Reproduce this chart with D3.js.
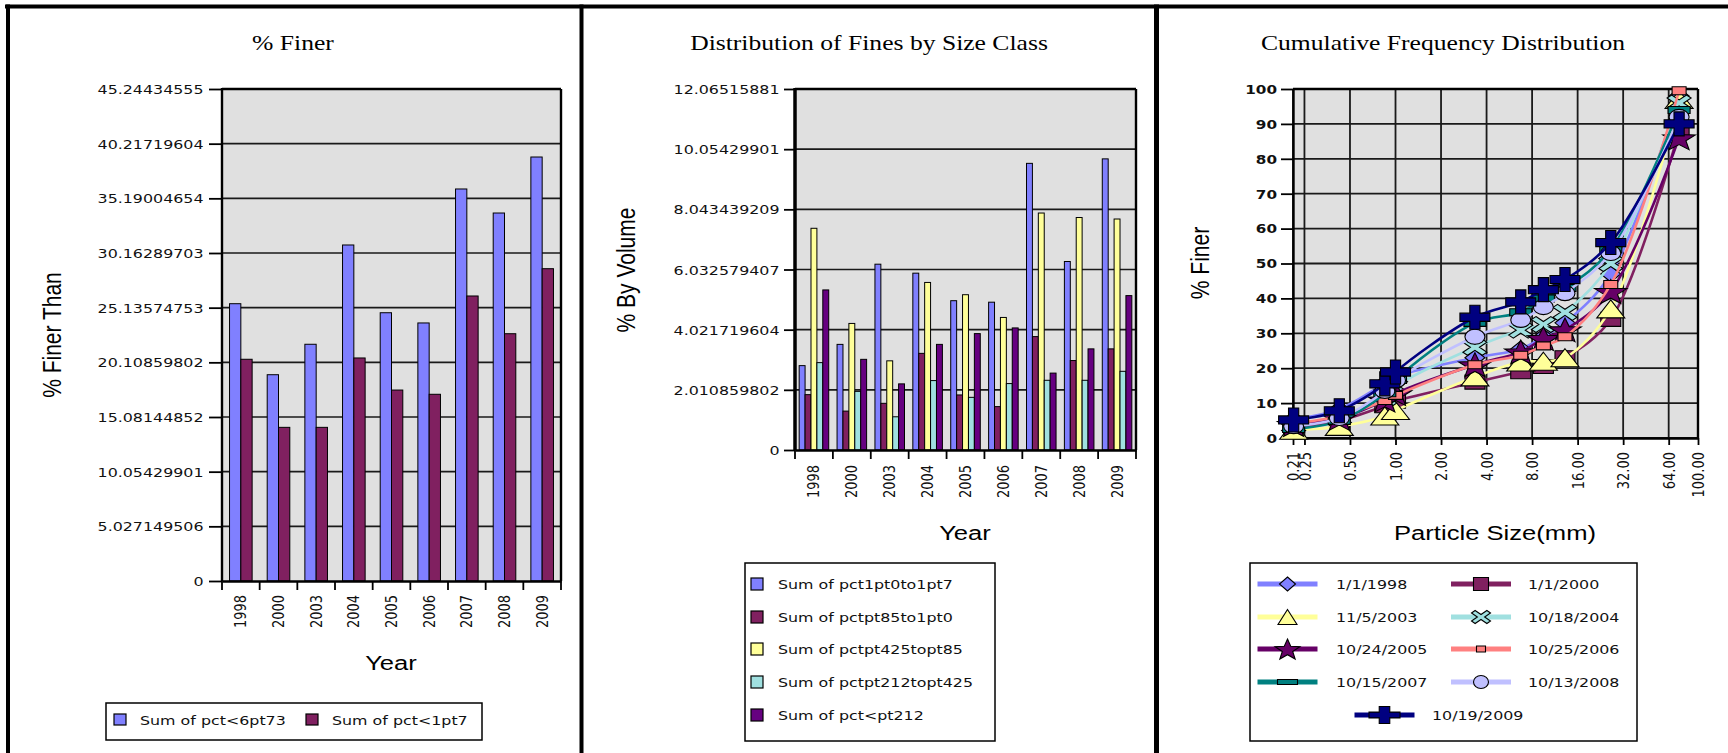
<!DOCTYPE html>
<html><head><meta charset="utf-8">
<script src="https://cdn.jsdelivr.net/npm/d3@7"></script>
<style>
html,body{margin:0;padding:0;background:#fff;}
svg{display:block;}
</style></head>
<body><svg id="c" width="1728" height="753"></svg>
<script>
// ---------------- DATA ----------------
const years = ["1998","2000","2003","2004","2005","2006","2007","2008","2009"];

// Panel 1: % Finer
const finerSeries = ["Sum of pct<6pt73","Sum of pct<1pt7"];
const pctLt6pt73 = [25.5,18.97,21.77,30.9,24.67,23.73,36.05,33.84,38.99];
const pctLt1pt7  = [20.39,14.13,14.13,20.51,17.56,17.17,26.21,22.74,28.72];
const finerTicks = ["0","5.027149506","10.05429901","15.08144852","20.10859802","25.13574753","30.16289703","35.19004654","40.21719604","45.24434555"];

// Panel 2: Distribution of fines by size class
const classSeries = ["Sum of pct1pt0to1pt7","Sum of pctpt85to1pt0","Sum of pctpt425topt85","Sum of pctpt212topt425","Sum of pct<pt212"];
const pct1pt0to1pt7   = [2.82,3.53,6.21,5.91,4.99,4.94,9.58,6.30,9.73];
const pctpt85to1pt0   = [1.85,1.30,1.56,3.23,1.84,1.45,3.79,2.99,3.38];
const pctpt425topt85  = [7.41,4.23,2.98,5.60,5.19,4.43,7.92,7.77,7.72];
const pctpt212topt425 = [2.92,1.96,1.11,2.32,1.76,2.22,2.33,2.33,2.63];
const pctLtpt212      = [5.35,3.03,2.21,3.53,3.89,4.08,2.57,3.38,5.16];
const classTicks = ["0","2.010859802","4.021719604","6.032579407","8.043439209","10.05429901","12.06515881"];

// Panel 3: Cumulative frequency distribution
const sizeTicks = ["0.21","0.25","0.50","1.00","2.00","4.00","8.00","16.00","32.00","64.00","100.00"];
const percentTicks = ["0","10","20","30","40","50","60","70","80","90","100"];
const sieveSizes = [0.212,0.425,0.85,1.0,3.35,6.73,9.5,13.2,26.5,75];
const sampleDates = ["1/1/1998","1/1/2000","11/5/2003","10/18/2004","10/24/2005","10/25/2006","10/15/2007","10/13/2008","10/19/2009"];
const cf1998 = [5.35,8.28,15.69,17.56,23.0,25.5,29.0,33.0,47.0,98.0];
const cf2000 = [3.03,5.01,9.25,10.56,16.0,18.97,20.5,23.0,34.0,88.0];
const cf2003 = [2.23,3.33,6.31,7.88,17.5,21.77,22.0,23.0,37.0,97.0];
const cf2004 = [3.54,5.86,11.46,14.69,26.0,30.9,32.5,36.0,50.0,96.0];
const cf2005 = [3.90,5.66,10.86,12.73,21.0,24.67,28.5,31.0,42.0,86.0];
const cf2006 = [4.09,6.31,10.76,12.21,21.0,23.73,26.4,29.0,44.0,99.5];
const cf2007 = [2.58,4.90,12.83,16.62,33.0,36.05,40.0,43.0,54.0,94.0];
const cf2008 = [3.39,5.71,13.49,16.49,29.0,33.84,37.5,41.5,53.0,92.0];
const cf2009 = [5.16,7.80,15.52,18.91,34.6,38.99,42.5,45.4,56.0,90.0];

// ---------------- STYLE ----------------
const K = 1.22; // horizontal stretch of the original screenshot
const SERIF = "'Liberation Serif','Times New Roman',serif";
const SANS = "'Liberation Sans',Arial,sans-serif";
const TICKF = "'DejaVu Sans',Verdana,sans-serif";
const PLOTBG = "#E0E0E0";
const GRID = "#1a1a1a";

const svg = d3.select("#c");

function txt(g, x, y, str, o) {
  return g.append("text")
    .attr("transform", `translate(${x},${y}) scale(${K},1)` + (o.rot ? " rotate(-90)" : ""))
    .attr("text-anchor", o.anchor || "start")
    .attr("dy", o.dy == null ? "0.35em" : o.dy)
    .style("font-family", o.font || TICKF)
    .style("font-size", (o.size || 13) + "px")
    .style("font-weight", o.weight || "normal")
    .attr("fill", o.fill || "#111")
    .text(str);
}

// ---------- frame ----------
const frame = svg.append("g");
frame.append("line").attr("x1",5).attr("x2",1728).attr("y1",6.5).attr("y2",6.5).attr("stroke","#000").attr("stroke-width",4);
[8, 581.5, 1156.5].forEach((x,i)=>{
  frame.append("line").attr("x1",x).attr("x2",x).attr("y1",4.5).attr("y2",753).attr("stroke","#000").attr("stroke-width", i===2?5:4);
});

// ---------- generic bar panel ----------
function barPanel(cfg) {
  const g = svg.append("g");
  const x = d3.scaleBand().domain(years).range([cfg.x0, cfg.x1]);
  const maxV = +cfg.ticks[cfg.ticks.length-1];
  const y = d3.scaleLinear().domain([0, maxV]).range([cfg.y1, cfg.y0]);
  const gw = x.bandwidth() * cfg.groupFrac;
  const inner = d3.scaleBand().domain(cfg.series).range([0, gw]);
  const off = (x.bandwidth() - gw) / 2;

  g.append("rect").attr("x",cfg.x0).attr("y",cfg.y0).attr("width",cfg.x1-cfg.x0).attr("height",cfg.y1-cfg.y0).attr("fill",PLOTBG);
  const tv = cfg.ticks.map(Number);
  g.append("g").selectAll("line").data(tv.slice(1)).join("line")
    .attr("x1",cfg.x0).attr("x2",cfg.x1).attr("y1",d=>y(d)).attr("y2",d=>y(d))
    .attr("stroke",GRID).attr("stroke-width",1.6);
  const ya = g.append("g").attr("transform",`translate(${cfg.x0},0)`)
    .call(d3.axisLeft(y).tickValues(tv).tickFormat((d,i)=>cfg.ticks[i]).tickSize(cfg.tickLen).tickSizeOuter(0));
  ya.select(".domain").remove();
  ya.selectAll(".tick line").attr("stroke","#000").attr("stroke-width",1.8);
  ya.selectAll(".tick text").attr("x",null).attr("dy","0.35em")
    .attr("transform",`translate(${-cfg.labelGap},0) scale(${K},1)`)
    .style("font-family",TICKF).style("font-size","13px").attr("fill","#111");

  cfg.series.forEach((s,si)=>{
    g.append("g").selectAll("rect").data(cfg.values[si]).join("rect")
      .attr("x",(d,i)=>x(years[i]) + off + inner(s))
      .attr("width",inner.bandwidth())
      .attr("y",d=>y(d)).attr("height",d=>y(0)-y(d))
      .attr("fill",cfg.colors[si]).attr("stroke","#000").attr("stroke-width",1);
  });

  g.append("line").attr("x1",cfg.x0).attr("x2",cfg.x1).attr("y1",cfg.y0).attr("y2",cfg.y0).attr("stroke","#000").attr("stroke-width",2.4);
  g.append("line").attr("x1",cfg.x1).attr("x2",cfg.x1).attr("y1",cfg.y0).attr("y2",cfg.y1).attr("stroke","#000").attr("stroke-width",2.4);
  g.append("line").attr("x1",cfg.x0).attr("x2",cfg.x0).attr("y1",cfg.y0-1).attr("y2",cfg.y1).attr("stroke","#000").attr("stroke-width",cfg.leftW);

  const xa = g.append("g").attr("transform",`translate(0,${cfg.y1})`)
    .call(d3.axisBottom(x).tickSize(0).tickSizeOuter(0));
  xa.select(".domain").attr("stroke","#000").attr("stroke-width",2.4);
  xa.selectAll(".tick text").attr("y",null).attr("dy","0.35em").attr("text-anchor","end")
    .attr("transform",`translate(0,${cfg.labTop-cfg.y1}) scale(${K},1) rotate(-90)`)
    .style("font-family",TICKF).style("font-size","13px").attr("fill","#111");
  const bounds = years.map(d=>x(d)).concat([cfg.x1]);
  g.append("g").selectAll("line").data(bounds).join("line")
    .attr("x1",d=>d).attr("x2",d=>d).attr("y1",cfg.y1).attr("y2",cfg.y1+9)
    .attr("stroke","#000").attr("stroke-width",1.8);
  return g;
}

// ---------- Panel 1 ----------
const p1 = barPanel({x0:222,x1:561,y0:89,y1:581,ticks:finerTicks,series:finerSeries,
  values:[pctLt6pt73,pctLt1pt7],colors:["#8080FF","#802060"],groupFrac:0.6,
  tickLen:13,labelGap:18.5,labTop:595,leftW:2.4});
txt(p1, 293, 43, "% Finer", {anchor:"middle",font:SERIF,size:21,fill:"#000"});
txt(p1, 52, 335, "% Finer Than", {anchor:"middle",font:SANS,size:21,rot:true,fill:"#000"});
txt(p1, 391, 663, "Year", {anchor:"middle",font:SANS,size:21,fill:"#000"});
{
  const lg = p1.append("g");
  lg.append("rect").attr("x",106).attr("y",703).attr("width",376).attr("height",37).attr("fill","#fff").attr("stroke","#000").attr("stroke-width",1.5);
  const sx = [114,306], tx=[140,332], cols=["#8080FF","#802060"];
  finerSeries.forEach((s,i)=>{
    lg.append("rect").attr("x",sx[i]).attr("y",714).attr("width",12).attr("height",11).attr("fill",cols[i]).attr("stroke","#000").attr("stroke-width",1.2);
    txt(lg, tx[i], 720, s, {size:13});
  });
}

// ---------- Panel 2 ----------
const classColors = ["#8080FF","#802060","#FFFF99","#A0E0E0","#660080"];
const p2 = barPanel({x0:795,x1:1136,y0:89,y1:450,ticks:classTicks,series:classSeries,
  values:[pct1pt0to1pt7,pctpt85to1pt0,pctpt425topt85,pctpt212topt425,pctLtpt212],colors:classColors,groupFrac:0.78,
  tickLen:11,labelGap:15.5,labTop:465,leftW:3.5});
txt(p2, 869, 43, "Distribution of Fines by Size Class", {anchor:"middle",font:SERIF,size:21,fill:"#000"});
txt(p2, 626, 270, "% By Volume", {anchor:"middle",font:SANS,size:21,rot:true,fill:"#000"});
txt(p2, 965, 533, "Year", {anchor:"middle",font:SANS,size:21,fill:"#000"});
const legRows = [584,617,649,682,715];
{
  const lg = p2.append("g");
  lg.append("rect").attr("x",745).attr("y",563).attr("width",250).attr("height",178).attr("fill","#fff").attr("stroke","#000").attr("stroke-width",1.5);
  classSeries.forEach((s,i)=>{
    lg.append("rect").attr("x",751).attr("y",legRows[i]-6).attr("width",12).attr("height",12).attr("fill",classColors[i]).attr("stroke","#000").attr("stroke-width",1.2);
    txt(lg, 778, legRows[i], s, {size:13});
  });
}

// ---------- Panel 3 ----------
const p3 = svg.append("g");
const P3 = {x0:1293,x1:1698,y0:89,y1:438};
const x3 = d3.scaleLog().domain([+sizeTicks[0], +sizeTicks[sizeTicks.length-1]]).range([P3.x0,P3.x1]);
const y3 = d3.scaleLinear().domain([0,100]).range([P3.y1,P3.y0]);
p3.append("rect").attr("x",P3.x0).attr("y",P3.y0).attr("width",P3.x1-P3.x0).attr("height",P3.y1-P3.y0).attr("fill",PLOTBG);
const sizeVals = sizeTicks.map(Number), pctVals = percentTicks.map(Number);
p3.append("g").selectAll("line").data(pctVals).join("line")
  .attr("x1",P3.x0).attr("x2",P3.x1).attr("y1",d=>y3(d)).attr("y2",d=>y3(d)).attr("stroke",GRID).attr("stroke-width",1.8);
p3.append("g").selectAll("line").data(sizeVals).join("line")
  .attr("y1",P3.y0).attr("y2",P3.y1).attr("x1",d=>x3(d)).attr("x2",d=>x3(d)).attr("stroke",GRID).attr("stroke-width",1.8);
{
  const ya = p3.append("g").attr("transform",`translate(${P3.x0},0)`)
    .call(d3.axisLeft(y3).tickValues(pctVals).tickFormat((d,i)=>percentTicks[i]).tickSize(12).tickSizeOuter(0));
  ya.select(".domain").attr("stroke","#000").attr("stroke-width",2.4);
  ya.selectAll(".tick line").attr("stroke","#000").attr("stroke-width",1.8);
  ya.selectAll(".tick text").attr("x",null).attr("dy","0.35em")
    .attr("transform",`translate(-16,0) scale(${K},1)`)
    .style("font-family",TICKF).style("font-size","12.5px").style("font-weight","bold").attr("fill","#111");
  const xa = p3.append("g").attr("transform",`translate(0,${P3.y1})`)
    .call(d3.axisBottom(x3).tickValues(sizeVals).tickFormat((d,i)=>sizeTicks[i]).tickSize(7).tickSizeOuter(0));
  xa.select(".domain").attr("stroke","#000").attr("stroke-width",2.4);
  xa.selectAll(".tick line").attr("stroke","#000").attr("stroke-width",1.8);
  xa.selectAll(".tick text").attr("y",null).attr("dy","0.35em").attr("text-anchor","end")
    .attr("transform",`translate(0,14) scale(${K},1) rotate(-90)`)
    .style("font-family",TICKF).style("font-size","13px").attr("fill","#111");
}
p3.append("line").attr("x1",P3.x0).attr("x2",P3.x1).attr("y1",P3.y0).attr("y2",P3.y0).attr("stroke","#000").attr("stroke-width",2.4);
p3.append("line").attr("x1",P3.x1).attr("x2",P3.x1).attr("y1",P3.y0).attr("y2",P3.y1).attr("stroke","#000").attr("stroke-width",2.4);

function poly(pts, w, h){ return "M" + pts.map(p=>[(p[0]*w/2).toFixed(2),(p[1]*h/2).toFixed(2)].join(",")).join("L") + "Z"; }
function starPts(){ const p=[]; for(let i=0;i<10;i++){ const a=-Math.PI/2+i*Math.PI/5, r=i%2?0.42:1; p.push([r*Math.cos(a), r*Math.sin(a)*1.05+0.1]); } return p; }
const shapes = {
  diamond: [[0,-1],[1,0],[0,1],[-1,0]],
  square: [[-1,-1],[1,-1],[1,1],[-1,1]],
  triangle: [[0,-1],[1,1],[-1,1]],
  x: (a=>[[-1+a,-1],[0,-a],[1-a,-1],[1,-1+a],[a,0],[1,1-a],[1-a,1],[0,a],[-1+a,1],[-1,1-a],[-a,0],[-1,-1+a]])(0.38),
  plus: (a=>[[-a,-1],[a,-1],[a,-a],[1,-a],[1,a],[a,a],[a,1],[-a,1],[-a,a],[-1,a],[-1,-a],[-a,-a]])(0.34),
  star: starPts()
};
function marker(g, type, cx, cy, w, h, fill){
  if (type === "circle") {
    g.append("ellipse").attr("cx",cx).attr("cy",cy).attr("rx",w/2).attr("ry",h/2).attr("fill",fill).attr("stroke","#000").attr("stroke-width",1.1);
  } else {
    g.append("path").attr("transform",`translate(${cx},${cy})`).attr("d",poly(shapes[type],w,h)).attr("fill",fill).attr("stroke","#000").attr("stroke-width",1.1);
  }
}

const seriesData = [cf1998,cf2000,cf2003,cf2004,cf2005,cf2006,cf2007,cf2008,cf2009];
const lineColors = ["#8080FF","#802060","#FFFF99","#A0E0E0","#660066","#FF8080","#008080","#C0C0FF","#000080"];
const mTypes = ["diamond","square","triangle","x","star","square","square","circle","plus"];
const mPlot = [[20,16],[20,14],[28,18],[24,16],[34,25],[14,8],[22,7],[20,15],[30,24]];
const mLeg  = [[16,14],[15,13],[19,15],[19,13],[26,21],[9,6],[20,5],[15,13],[31,17]];

const lineGen = d3.line().x(d=>x3(d[0])).y(d=>y3(d[1])).curve(d3.curveCatmullRom.alpha(0.5));
seriesData.forEach((vals,si)=>{
  const g = p3.append("g");
  const pts = sieveSizes.map((s,i)=>[s, vals[i]]);
  g.append("path").attr("d",lineGen(pts)).attr("fill","none").attr("stroke",lineColors[si]).attr("stroke-width",2.6);
  pts.forEach(p=>marker(g, mTypes[si], x3(p[0]), y3(p[1]), mPlot[si][0], mPlot[si][1], lineColors[si]));
});

txt(p3, 1443, 43, "Cumulative Frequency Distribution", {anchor:"middle",font:SERIF,size:21,fill:"#000"});
txt(p3, 1200, 263, "% Finer", {anchor:"middle",font:SANS,size:21,rot:true,fill:"#000"});
txt(p3, 1495, 533, "Particle Size(mm)", {anchor:"middle",font:SANS,size:21,fill:"#000"});
{
  const lg = p3.append("g");
  lg.append("rect").attr("x",1250).attr("y",563).attr("width",387).attr("height",178).attr("fill","#fff").attr("stroke","#000").attr("stroke-width",1.5);
  sampleDates.forEach((s,i)=>{
    let mx, ty, tx;
    if (i === 8) { mx = 1384.5; ty = legRows[4]; tx = 1432; }
    else { const col = i%2, row = Math.floor(i/2); mx = col ? 1481 : 1287.5; ty = legRows[row]; tx = col ? 1528 : 1336; }
    lg.append("line").attr("x1",mx-30).attr("x2",mx+30).attr("y1",ty).attr("y2",ty).attr("stroke",lineColors[i]).attr("stroke-width",5);
    marker(lg, mTypes[i], mx, ty, mLeg[i][0], mLeg[i][1], lineColors[i]);
    txt(lg, tx, ty, s, {size:13});
  });
}
</script>
</body></html>
